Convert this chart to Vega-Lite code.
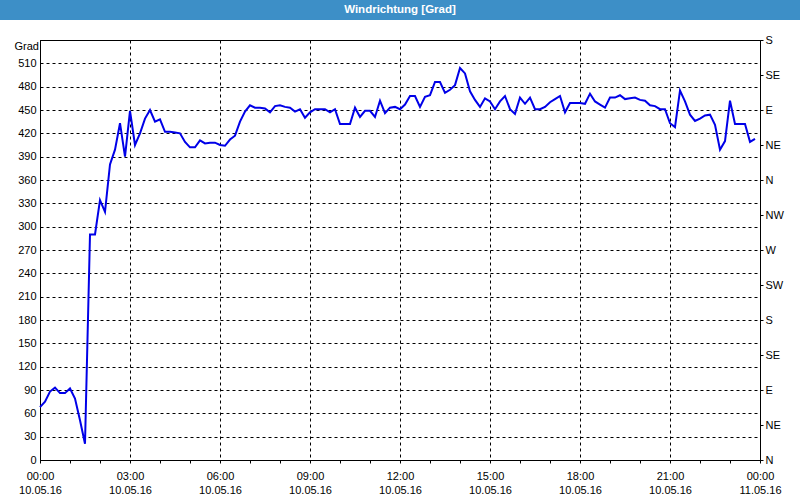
{
  "$schema": "https://vega.github.io/schema/vega-lite/v6.json",
  "background": "white",
  "padding": 0,
  "spacing": 20,
  "bounds": "flush",
  "center": true,
  "config": {
    "view": {"stroke": "black", "strokeWidth": 1},
    "font": "Liberation Sans"
  },
  "vconcat": [
    {
      "width": 800,
      "height": 20,
      "view": {"fill": "#3d8fc7", "stroke": null},
      "data": {"values": [{"title": "Windrichtung [Grad]"}]},
      "mark": {"type": "text", "color": "white", "font": "Liberation Sans", "fontSize": 11.5, "fontWeight": "bold", "baseline": "middle", "align": "center"},
      "encoding": {"text": {"field": "title"}}
    },
    {
      "width": 720,
      "height": 420,
      "data": {"values": [
        {"t": "2016-05-10T00:00", "v": 68}, {"t": "2016-05-10T00:10", "v": 75}, {"t": "2016-05-10T00:20", "v": 88}, {"t": "2016-05-10T00:30", "v": 93}, {"t": "2016-05-10T00:40", "v": 86}, {"t": "2016-05-10T00:50", "v": 86},
        {"t": "2016-05-10T01:00", "v": 92}, {"t": "2016-05-10T01:10", "v": 79}, {"t": "2016-05-10T01:20", "v": 51}, {"t": "2016-05-10T01:30", "v": 21}, {"t": "2016-05-10T01:40", "v": 290}, {"t": "2016-05-10T01:50", "v": 290},
        {"t": "2016-05-10T02:00", "v": 334}, {"t": "2016-05-10T02:10", "v": 319}, {"t": "2016-05-10T02:20", "v": 380}, {"t": "2016-05-10T02:30", "v": 399}, {"t": "2016-05-10T02:40", "v": 433}, {"t": "2016-05-10T02:50", "v": 390},
        {"t": "2016-05-10T03:00", "v": 449}, {"t": "2016-05-10T03:10", "v": 405}, {"t": "2016-05-10T03:20", "v": 420}, {"t": "2016-05-10T03:30", "v": 439}, {"t": "2016-05-10T03:40", "v": 450}, {"t": "2016-05-10T03:50", "v": 435},
        {"t": "2016-05-10T04:00", "v": 438}, {"t": "2016-05-10T04:10", "v": 422}, {"t": "2016-05-10T04:20", "v": 422}, {"t": "2016-05-10T04:30", "v": 421}, {"t": "2016-05-10T04:40", "v": 420}, {"t": "2016-05-10T04:50", "v": 409},
        {"t": "2016-05-10T05:00", "v": 402}, {"t": "2016-05-10T05:10", "v": 402}, {"t": "2016-05-10T05:20", "v": 411}, {"t": "2016-05-10T05:30", "v": 407}, {"t": "2016-05-10T05:40", "v": 408}, {"t": "2016-05-10T05:50", "v": 408},
        {"t": "2016-05-10T06:00", "v": 405}, {"t": "2016-05-10T06:10", "v": 404}, {"t": "2016-05-10T06:20", "v": 412}, {"t": "2016-05-10T06:30", "v": 417}, {"t": "2016-05-10T06:40", "v": 435}, {"t": "2016-05-10T06:50", "v": 448},
        {"t": "2016-05-10T07:00", "v": 456}, {"t": "2016-05-10T07:10", "v": 453}, {"t": "2016-05-10T07:20", "v": 453}, {"t": "2016-05-10T07:30", "v": 452}, {"t": "2016-05-10T07:40", "v": 447}, {"t": "2016-05-10T07:50", "v": 455},
        {"t": "2016-05-10T08:00", "v": 456}, {"t": "2016-05-10T08:10", "v": 454}, {"t": "2016-05-10T08:20", "v": 453}, {"t": "2016-05-10T08:30", "v": 448}, {"t": "2016-05-10T08:40", "v": 451}, {"t": "2016-05-10T08:50", "v": 440},
        {"t": "2016-05-10T09:00", "v": 447}, {"t": "2016-05-10T09:10", "v": 451}, {"t": "2016-05-10T09:20", "v": 451}, {"t": "2016-05-10T09:30", "v": 451}, {"t": "2016-05-10T09:40", "v": 447}, {"t": "2016-05-10T09:50", "v": 451},
        {"t": "2016-05-10T10:00", "v": 432}, {"t": "2016-05-10T10:10", "v": 432}, {"t": "2016-05-10T10:20", "v": 432}, {"t": "2016-05-10T10:30", "v": 453}, {"t": "2016-05-10T10:40", "v": 441}, {"t": "2016-05-10T10:50", "v": 449},
        {"t": "2016-05-10T11:00", "v": 449}, {"t": "2016-05-10T11:10", "v": 441}, {"t": "2016-05-10T11:20", "v": 462}, {"t": "2016-05-10T11:30", "v": 446}, {"t": "2016-05-10T11:40", "v": 453}, {"t": "2016-05-10T11:50", "v": 454},
        {"t": "2016-05-10T12:00", "v": 451}, {"t": "2016-05-10T12:10", "v": 457}, {"t": "2016-05-10T12:20", "v": 468}, {"t": "2016-05-10T12:30", "v": 468}, {"t": "2016-05-10T12:40", "v": 454}, {"t": "2016-05-10T12:50", "v": 467},
        {"t": "2016-05-10T13:00", "v": 469}, {"t": "2016-05-10T13:10", "v": 486}, {"t": "2016-05-10T13:20", "v": 486}, {"t": "2016-05-10T13:30", "v": 472}, {"t": "2016-05-10T13:40", "v": 476}, {"t": "2016-05-10T13:50", "v": 482},
        {"t": "2016-05-10T14:00", "v": 504}, {"t": "2016-05-10T14:10", "v": 497}, {"t": "2016-05-10T14:20", "v": 474}, {"t": "2016-05-10T14:30", "v": 463}, {"t": "2016-05-10T14:40", "v": 454}, {"t": "2016-05-10T14:50", "v": 465},
        {"t": "2016-05-10T15:00", "v": 461}, {"t": "2016-05-10T15:10", "v": 451}, {"t": "2016-05-10T15:20", "v": 461}, {"t": "2016-05-10T15:30", "v": 468}, {"t": "2016-05-10T15:40", "v": 451}, {"t": "2016-05-10T15:50", "v": 445},
        {"t": "2016-05-10T16:00", "v": 466}, {"t": "2016-05-10T16:10", "v": 458}, {"t": "2016-05-10T16:20", "v": 466}, {"t": "2016-05-10T16:30", "v": 451}, {"t": "2016-05-10T16:40", "v": 451}, {"t": "2016-05-10T16:50", "v": 454},
        {"t": "2016-05-10T17:00", "v": 460}, {"t": "2016-05-10T17:10", "v": 464}, {"t": "2016-05-10T17:20", "v": 468}, {"t": "2016-05-10T17:30", "v": 447}, {"t": "2016-05-10T17:40", "v": 459}, {"t": "2016-05-10T17:50", "v": 459},
        {"t": "2016-05-10T18:00", "v": 459}, {"t": "2016-05-10T18:10", "v": 458}, {"t": "2016-05-10T18:20", "v": 471}, {"t": "2016-05-10T18:30", "v": 461}, {"t": "2016-05-10T18:40", "v": 457}, {"t": "2016-05-10T18:50", "v": 453},
        {"t": "2016-05-10T19:00", "v": 466}, {"t": "2016-05-10T19:10", "v": 466}, {"t": "2016-05-10T19:20", "v": 469}, {"t": "2016-05-10T19:30", "v": 464}, {"t": "2016-05-10T19:40", "v": 465}, {"t": "2016-05-10T19:50", "v": 466},
        {"t": "2016-05-10T20:00", "v": 463}, {"t": "2016-05-10T20:10", "v": 462}, {"t": "2016-05-10T20:20", "v": 456}, {"t": "2016-05-10T20:30", "v": 455}, {"t": "2016-05-10T20:40", "v": 451}, {"t": "2016-05-10T20:50", "v": 451},
        {"t": "2016-05-10T21:00", "v": 433}, {"t": "2016-05-10T21:10", "v": 428}, {"t": "2016-05-10T21:20", "v": 475}, {"t": "2016-05-10T21:30", "v": 461}, {"t": "2016-05-10T21:40", "v": 444}, {"t": "2016-05-10T21:50", "v": 436},
        {"t": "2016-05-10T22:00", "v": 439}, {"t": "2016-05-10T22:10", "v": 443}, {"t": "2016-05-10T22:20", "v": 444}, {"t": "2016-05-10T22:30", "v": 431}, {"t": "2016-05-10T22:40", "v": 399}, {"t": "2016-05-10T22:50", "v": 410},
        {"t": "2016-05-10T23:00", "v": 462}, {"t": "2016-05-10T23:10", "v": 432}, {"t": "2016-05-10T23:20", "v": 432}, {"t": "2016-05-10T23:30", "v": 432}, {"t": "2016-05-10T23:40", "v": 409}, {"t": "2016-05-10T23:50", "v": 413}
      ]},
      "layer": [
        {
          "mark": {"type": "line", "color": "#0000e8", "strokeWidth": 2, "interpolate": "linear"},
          "encoding": {
            "x": {
              "field": "t", "type": "temporal",
              "scale": {"domain": [{"year": 2016, "month": 5, "date": 10, "hours": 0}, {"year": 2016, "month": 5, "date": 11, "hours": 0}], "nice": false},
              "axis": {
                "orient": "bottom", "title": null, "format": "%H:%M",
                "values": [
                  {"year": 2016, "month": 5, "date": 10, "hours": 0}, {"year": 2016, "month": 5, "date": 10, "hours": 3}, {"year": 2016, "month": 5, "date": 10, "hours": 6},
                  {"year": 2016, "month": 5, "date": 10, "hours": 9}, {"year": 2016, "month": 5, "date": 10, "hours": 12}, {"year": 2016, "month": 5, "date": 10, "hours": 15},
                  {"year": 2016, "month": 5, "date": 10, "hours": 18}, {"year": 2016, "month": 5, "date": 10, "hours": 21}, {"year": 2016, "month": 5, "date": 11, "hours": 0}
                ],
                "labelFont": "Liberation Sans", "labelFontSize": 11, "labelColor": "black",
                "labelPadding": 7, "labelFlush": false, "labelOverlap": false,
                "tickSize": 3, "tickColor": "black", "domainColor": "black",
                "grid": true, "gridColor": "black", "gridDash": [3, 3]
              }
            },
            "y": {
              "field": "v", "type": "quantitative",
              "scale": {"domain": [0, 540], "nice": false, "zero": false},
              "axis": {
                "orient": "left", "title": "Grad", "titleAngle": 0, "titleX": -26, "titleY": 6,
                "titleAlign": "left", "titleBaseline": "middle",
                "titleFont": "Liberation Sans", "titleFontSize": 11, "titleFontWeight": "normal", "titleColor": "black",
                "values": [0, 30, 60, 90, 120, 150, 180, 210, 240, 270, 300, 330, 360, 390, 420, 450, 480, 510, 540],
                "labelExpr": "datum.value == 540 ? '' : datum.label",
                "labelFont": "Liberation Sans", "labelFontSize": 11, "labelColor": "black",
                "labelPadding": 4, "ticks": false, "domainColor": "black",
                "grid": true, "gridColor": "black", "gridDash": [3, 3]
              }
            }
          }
        },
        {
          "mark": {"type": "line", "opacity": 0},
          "encoding": {
            "x": {
              "field": "t", "type": "temporal",
              "axis": {
                "orient": "bottom", "title": null, "format": "%d.%m.%y", "offset": 14,
                "values": [
                  {"year": 2016, "month": 5, "date": 10, "hours": 0}, {"year": 2016, "month": 5, "date": 10, "hours": 3}, {"year": 2016, "month": 5, "date": 10, "hours": 6},
                  {"year": 2016, "month": 5, "date": 10, "hours": 9}, {"year": 2016, "month": 5, "date": 10, "hours": 12}, {"year": 2016, "month": 5, "date": 10, "hours": 15},
                  {"year": 2016, "month": 5, "date": 10, "hours": 18}, {"year": 2016, "month": 5, "date": 10, "hours": 21}, {"year": 2016, "month": 5, "date": 11, "hours": 0}
                ],
                "labelFont": "Liberation Sans", "labelFontSize": 11, "labelColor": "black",
                "labelPadding": 10, "labelFlush": false, "labelOverlap": false,
                "ticks": false, "domain": false, "grid": false
              }
            },
            "y": {
              "field": "v", "type": "quantitative",
              "axis": {
                "orient": "right", "title": null,
                "values": [0, 45, 90, 135, 180, 225, 270, 315, 360, 405, 450, 495, 540],
                "labelExpr": "['N','NE','E','SE','S','SW','W','NW'][round(datum.value / 45) % 8]",
                "labelFont": "Liberation Sans", "labelFontSize": 11, "labelColor": "black",
                "labelPadding": 2, "tickSize": 3, "tickColor": "black", "domainColor": "black",
                "grid": false
              }
            }
          }
        },
        {
          "mark": {"type": "line", "opacity": 0},
          "encoding": {
            "x": {
              "field": "t", "type": "temporal",
              "axis": {
                "orient": "bottom", "title": null, "labels": false, "domain": false, "grid": false,
                "tickSize": 3, "tickColor": "black",
                "values": [
                  {"year": 2016, "month": 5, "date": 10, "hours": 1}, {"year": 2016, "month": 5, "date": 10, "hours": 2}, {"year": 2016, "month": 5, "date": 10, "hours": 4},
                  {"year": 2016, "month": 5, "date": 10, "hours": 5}, {"year": 2016, "month": 5, "date": 10, "hours": 7}, {"year": 2016, "month": 5, "date": 10, "hours": 8},
                  {"year": 2016, "month": 5, "date": 10, "hours": 10}, {"year": 2016, "month": 5, "date": 10, "hours": 11}, {"year": 2016, "month": 5, "date": 10, "hours": 13},
                  {"year": 2016, "month": 5, "date": 10, "hours": 14}, {"year": 2016, "month": 5, "date": 10, "hours": 16}, {"year": 2016, "month": 5, "date": 10, "hours": 17},
                  {"year": 2016, "month": 5, "date": 10, "hours": 19}, {"year": 2016, "month": 5, "date": 10, "hours": 20}, {"year": 2016, "month": 5, "date": 10, "hours": 22},
                  {"year": 2016, "month": 5, "date": 10, "hours": 23}
                ]
              }
            },
            "y": {"field": "v", "type": "quantitative", "axis": null}
          }
        }
      ],
      "resolve": {"axis": {"x": "independent", "y": "independent"}}
    }
  ]
}
